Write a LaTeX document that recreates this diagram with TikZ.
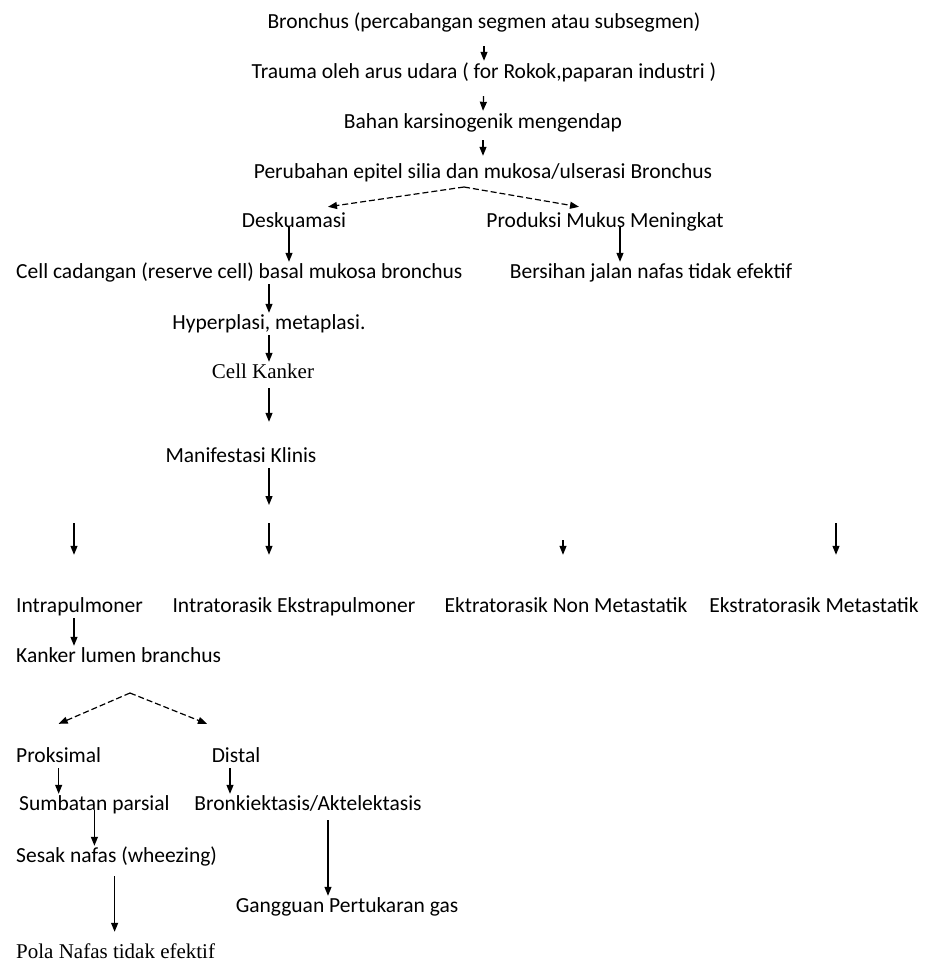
\documentclass[tikz,border=0pt]{standalone}
\usepackage{fontspec}
\setmainfont{Carlito}
\newfontfamily\serifface{Liberation Serif}
\usetikzlibrary{arrows.meta}

\begin{document}
\begin{tikzpicture}[
    x=1pt, y=-1pt,
    lbl/.style={inner sep=1pt, text height=15pt, text depth=5pt, font=\fontsize{21.5}{25}\selectfont},
    seriflbl/.style={inner sep=1pt, text height=15pt, text depth=5pt, font=\fontsize{21}{25}\selectfont\serifface},
    flow/.style={-{Triangle[length=9pt,width=7pt]}, line width=1.2pt},
    dashflow/.style={flow, dash pattern=on 6pt off 3pt},
    ]
    \useasboundingbox (0,0) rectangle (926,967);

    % main chain
    \node[lbl] (bronchus) at (484,23) {Bronchus (percabangan segmen atau subsegmen)};
    \node[lbl] (trauma) at (484,73) {Trauma oleh arus udara ( for Rokok,paparan industri )};
    \node[lbl] (bahan) at (483,123) {Bahan karsinogenik mengendap};
    \node[lbl] (perubahan) at (483,173) {Perubahan epitel silia dan mukosa/ulserasi Bronchus};
    \node[lbl] (deskuamasi) at (294,222) {Deskuamasi};
    \node[lbl] (produksi) at (605,222) {Produksi Mukus Meningkat};
    \node[lbl, anchor=west] (cadangan) at (15,273) {Cell cadangan (reserve cell) basal mukosa bronchus};
    \node[lbl] (bersihan) at (651,273) {Bersihan jalan nafas tidak efektif};
    \node[lbl] (hyper) at (269,324) {Hyperplasi, metaplasi.};
    \node[seriflbl] (kanker) at (263,373) {Cell Kanker};
    \node[lbl] (klinis) at (241,457) {Manifestasi Klinis};

    % manifestasi
    \node[lbl, anchor=west] (intrapul) at (15,607) {Intrapulmoner};
    \node[lbl] (intrator) at (294,607) {Intratorasik Ekstrapulmoner};
    \node[lbl] (ektranon) at (566,607) {Ektratorasik Non Metastatik};
    \node[lbl] (ekstramet) at (814,607) {Ekstratorasik Metastatik};

    % intrapulmoner
    \node[lbl, anchor=west] (lumen) at (15,657) {Kanker lumen branchus};
    \node[lbl, anchor=west] (proksimal) at (15,757) {Proksimal};
    \node[lbl] (distal) at (236,757) {Distal};
    \node[lbl, anchor=west] (sumbatan) at (18,805) {Sumbatan parsial};
    \node[lbl] (bronki) at (308,805) {Bronkiektasis/Aktelektasis};
    \node[lbl, anchor=west] (sesak) at (15,857) {Sesak nafas (wheezing)};
    \node[lbl] (gangguan) at (347,907) {Gangguan Pertukaran gas};
    \node[seriflbl, anchor=west] (pola) at (15,953) {Pola Nafas tidak efektif};

    \coordinate (split1) at (464,187);
    \coordinate (split2) at (269,505);
    \coordinate (split3) at (130,693);
    \coordinate (s1) at (74,523);
    \coordinate (s2) at (269,523);
    \coordinate (s3) at (563,540);
    \coordinate (s4) at (836,523);

    \draw[flow, shorten <=12pt, shorten >=1pt] (bronchus.south) -- (trauma.north);
    \draw[flow, shorten <=12pt, shorten >=1pt] (trauma.south) -- (bahan.north);
    \draw[flow, shorten <=6pt, shorten >=6pt] (bahan.south) -- (perubahan.north);

    \draw[dashflow] (split1) -- ([xshift=34pt,yshift=4pt]deskuamasi.north);
    \draw[dashflow] (split1) -- ([xshift=-26pt,yshift=4pt]produksi.north);

    \draw[flow] ([xshift=-5pt,yshift=-5pt]deskuamasi.center) -- ([xshift=-5pt]deskuamasi.south |- cadangan.north);
    \draw[flow] ([xshift=15pt,yshift=-5pt]produksi.center) -- ([xshift=15pt]produksi.south |- bersihan.north);
    \draw[flow] (cadangan.south -| hyper) -- (hyper.north);
    \draw[flow] (hyper.south) -- (hyper.south |- kanker.north);
    \draw[flow, shorten <=4pt, shorten >=24pt] (kanker.south -| hyper) -- (klinis.north -| hyper);
    \draw[flow] (klinis.south -| hyper) -- (split2);

    \draw[flow, shorten >=41pt] (s1) -- (s1 |- intrapul.north);
    \draw[flow, shorten >=41pt] (s2) -- (s2 |- intrator.north);
    \draw[flow, shorten >=41pt] (s3) -- (s3 |- ektranon.north);
    \draw[flow, shorten >=41pt] (s4) -- (s4 |- ekstramet.north);

    \draw[flow] (intrapul.south -| s1) -- (lumen.north -| s1);
    \draw[dashflow] (split3) -- ([yshift=22pt]proksimal.north);
    \draw[dashflow] (split3) -- ([xshift=-29pt,yshift=22pt]distal.north);

    \draw[flow] (proksimal.south) -- (proksimal.south |- sumbatan.north);
    \draw[flow] ([xshift=-6pt]distal.south) -- ([xshift=-6pt]distal.south |- bronki.north);
    \draw[flow] ([yshift=-5pt]sumbatan.center) -- (sumbatan.center |- sesak.north);
    \draw[flow, shorten <=4pt] ([xshift=20pt]bronki.south) -- ([xshift=20pt]bronki.south |- gangguan.north);
    \draw[flow, shorten <=8pt, shorten >=10pt] ([xshift=-2pt]sesak.south) -- ([xshift=-2pt]sesak.south |- pola.north);
\end{tikzpicture}
\end{document}
